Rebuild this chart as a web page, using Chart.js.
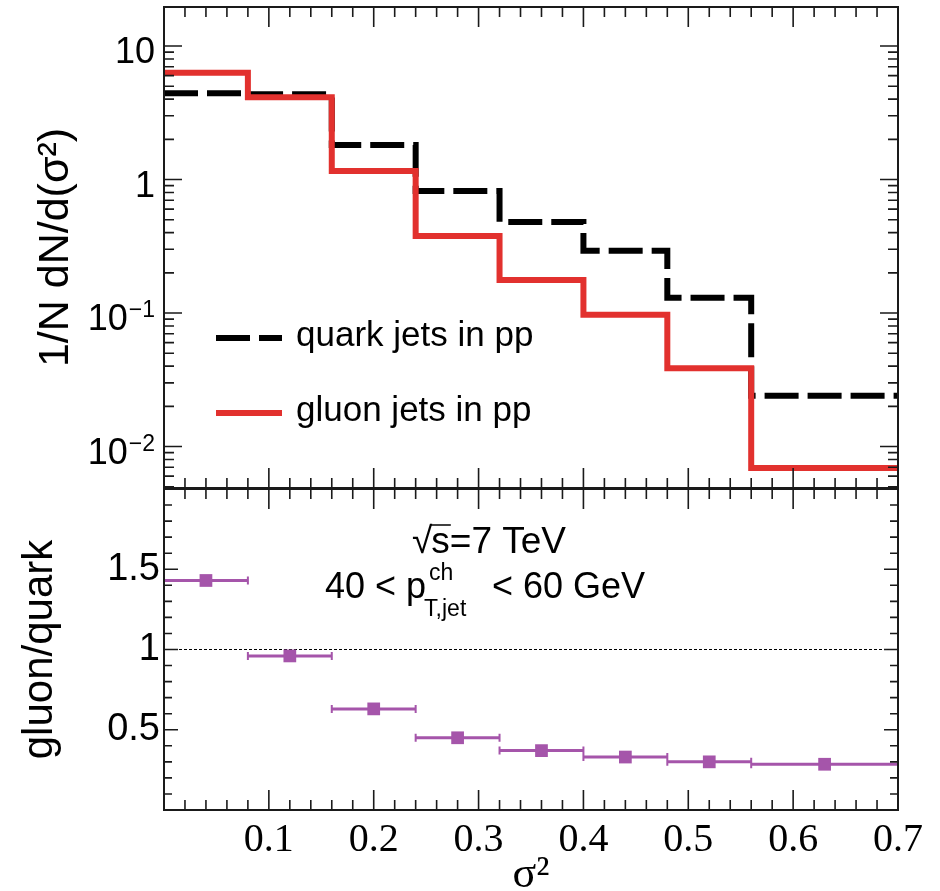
<!DOCTYPE html>
<html><head><meta charset="utf-8">
<script src="https://cdn.jsdelivr.net/npm/chart.js@4.4.1/dist/chart.umd.min.js"></script>
<style>
html,body{margin:0;padding:0;background:#fff;overflow:hidden;width:940px;height:891px;}
#wrap{position:relative;width:940px;height:891px;}
canvas{position:absolute;left:0;}
#cTop{top:0;} #cBot{top:480px;}
</style></head><body>
<div id="wrap"><canvas id="cTop" width="940" height="500"></canvas><canvas id="cBot" width="940" height="421"></canvas></div>
<script>
// ---------- data ----------
const binEdges = [0, 0.08, 0.16, 0.24, 0.32, 0.40, 0.48, 0.56, 0.70];
const quarkValues = [4.42, 4.35, 1.81, 0.82, 0.48, 0.293, 0.130, 0.024];
const gluonValues = [6.3, 4.13, 1.16, 0.377, 0.177, 0.097, 0.0385, 0.0069];
const ratioCenters = [0.04, 0.12, 0.20, 0.28, 0.36, 0.44, 0.52, 0.63];
const ratioValues = [1.43, 0.96, 0.63, 0.45, 0.37, 0.33, 0.30, 0.285];
const xTickValues = [0.1, 0.2, 0.3, 0.4, 0.5, 0.6, 0.7];
const xTickLabels = ['0.1', '0.2', '0.3', '0.4', '0.5', '0.6', '0.7'];
const ratioTickValues = [0.5, 1, 1.5];
const ratioTickLabels = ['0.5', '1', '1.5'];
const logTickValues = [0.01, 0.1, 1, 10];
const logTickBases = ['10', '10', '1', '10'];
const logTickExps = ['\u22122', '\u22121', '', ''];
const seriesLabels = ['quark jets in pp', 'gluon jets in pp'];

const SANS = "'Liberation Sans', Arial, Helvetica, sans-serif";
const SERIF = "'Liberation Serif', 'Times New Roman', serif";
const RED = '#e2312e';
const PURPLE = '#a555aa';
const FRAME = '#1a1a1a';
const BOT_TOP = 480; // page offset of lower canvas

function stepPoints(vals) {
  const pts = vals.map((v, i) => ({x: binEdges[i], y: v}));
  pts.push({x: binEdges[binEdges.length - 1], y: vals[vals.length - 1]});
  return pts;
}

function drawXTicks(ctx, x, a) {
  for (let k = 1; k < 35; k++) {
    const v = Math.round(k * 2) / 100;
    const px = x.getPixelForValue(v);
    const L = (k % 5 === 0) ? 20 : 10;
    ctx.moveTo(px, a.bottom); ctx.lineTo(px, a.bottom - L);
    ctx.moveTo(px, a.top); ctx.lineTo(px, a.top + L);
  }
}
function drawYTick(ctx, py, a, L) {
  ctx.moveTo(a.left, py); ctx.lineTo(a.left + L, py);
  ctx.moveTo(a.right, py); ctx.lineTo(a.right - L, py);
}
function noPad(s) { s.paddingTop = 0; s.paddingBottom = 0; s.paddingLeft = 0; s.paddingRight = 0; }

// ---------- top panel plugin ----------
const topPlugin = {
  id: 'topPanel',
  afterDraw(chart) {
    const {ctx, chartArea: a, scales: {x, y}} = chart;
    ctx.save();
    ctx.strokeStyle = FRAME; ctx.lineWidth = 1.6;
    ctx.beginPath();
    drawXTicks(ctx, x, a);
    for (let d = -3; d <= 1; d++) {
      for (let m = 1; m <= 9; m++) {
        const v = m * Math.pow(10, d);
        if (v < y.min || v > y.max) continue;
        drawYTick(ctx, y.getPixelForValue(v), a, m === 1 ? 18 : 10);
      }
    }
    ctx.stroke();
    ctx.lineWidth = 2;
    ctx.strokeRect(a.left, a.top, a.right - a.left, a.bottom - a.top);
    // y tick labels with exponents
    ctx.fillStyle = '#000';
    ctx.textAlign = 'right'; ctx.textBaseline = 'alphabetic';
    const xr = 155;
    logTickValues.forEach((v, i) => {
      const py = y.getPixelForValue(v);
      let w = 0;
      if (logTickExps[i]) {
        ctx.font = '23px ' + SANS;
        ctx.fillText(logTickExps[i], xr, py + 4);
        w = ctx.measureText(logTickExps[i]).width + 1;
      }
      ctx.font = '36px ' + SANS;
      ctx.fillText(logTickBases[i], xr - w, py + 17);
    });
    // legend
    const ly = [338, 413];
    chart.data.datasets.forEach((ds, i) => {
      ctx.save();
      ctx.strokeStyle = ds.borderColor; ctx.lineWidth = ds.borderWidth;
      ctx.setLineDash(ds.borderDash || []);
      ctx.beginPath(); ctx.moveTo(216, ly[i]); ctx.lineTo(282, ly[i]); ctx.stroke();
      ctx.restore();
      ctx.fillStyle = '#000'; ctx.textAlign = 'left'; ctx.textBaseline = 'middle';
      ctx.font = '35px ' + SANS;
      ctx.fillText(ds.label, 296, ly[i] - 2);
    });
    ctx.restore();
  }
};

// ---------- bottom panel plugin ----------
const botPlugin = {
  id: 'botPanel',
  beforeDatasetsDraw(chart) {
    const {ctx, chartArea: a, scales: {x, y}} = chart;
    ctx.save();
    ctx.strokeStyle = '#000'; ctx.lineWidth = 1.2; ctx.setLineDash([3, 2]);
    const p1 = y.getPixelForValue(1);
    ctx.beginPath(); ctx.moveTo(a.left, p1); ctx.lineTo(a.right, p1); ctx.stroke();
    ctx.setLineDash([]);
    ctx.strokeStyle = PURPLE; ctx.lineWidth = 3;
    ctx.beginPath();
    ratioValues.forEach((v, i) => {
      const py = y.getPixelForValue(v);
      ctx.moveTo(x.getPixelForValue(binEdges[i]), py);
      ctx.lineTo(x.getPixelForValue(binEdges[i + 1]), py);
    });
    ctx.stroke();
    ctx.lineWidth = 2;
    ctx.beginPath();
    ratioValues.forEach((v, i) => {
      const py = y.getPixelForValue(v);
      [binEdges[i], binEdges[i + 1]].forEach(e => {
        const px = x.getPixelForValue(e);
        ctx.moveTo(px, py - 4); ctx.lineTo(px, py + 4);
      });
    });
    ctx.stroke();
    ctx.restore();
  },
  afterDraw(chart) {
    const {ctx, chartArea: a, scales: {x, y}} = chart;
    ctx.save();
    ctx.strokeStyle = FRAME; ctx.lineWidth = 1.6;
    ctx.beginPath();
    drawXTicks(ctx, x, a);
    for (let k = 1; k < 20; k++) {
      drawYTick(ctx, y.getPixelForValue(k / 10), a, k % 5 === 0 ? 14 : 8);
    }
    ctx.stroke();
    ctx.lineWidth = 2;
    ctx.strokeRect(a.left, a.top, a.right - a.left, a.bottom - a.top);
    // annotation text (page coordinates shifted into this canvas)
    const o = BOT_TOP;
    ctx.fillStyle = '#000'; ctx.textAlign = 'left'; ctx.textBaseline = 'alphabetic';
    ctx.font = '37px ' + SANS;
    const rootW = ctx.measureText('\u221A').width;
    ctx.fillText('\u221A', 412, 553 - o);
    ctx.fillText('s=7 TeV', 412 + rootW - 1, 553 - o);
    const sW = ctx.measureText('s').width;
    ctx.lineWidth = 1.5; ctx.strokeStyle = '#000';
    ctx.beginPath(); ctx.moveTo(412 + rootW - 2, 525 - o); ctx.lineTo(412 + rootW + sW, 525 - o); ctx.stroke();
    ctx.font = '36px ' + SANS;
    const t1 = '40 < p';
    ctx.fillText(t1, 325, 598 - o);
    const pEnd = 325 + ctx.measureText(t1).width;
    ctx.font = '23px ' + SANS;
    ctx.fillText('ch', pEnd + 3, 580 - o);
    ctx.fillText('T,jet', pEnd - 2, 616 - o);
    ctx.font = '36px ' + SANS;
    ctx.fillText('< 60 GeV', 492, 598 - o);
    ctx.restore();
  }
};

// ---------- top chart ----------
new Chart(document.getElementById('cTop'), {
  type: 'line',
  data: {
    datasets: [
      {label: seriesLabels[0], data: stepPoints(quarkValues), stepped: true, borderColor: '#000',
       borderWidth: 6, borderDash: [34, 9], pointRadius: 0, fill: false, order: 1},
      {label: seriesLabels[1], data: stepPoints(gluonValues), stepped: true, borderColor: RED,
       borderWidth: 6, pointRadius: 0, fill: false, order: 0}
    ]
  },
  options: {
    responsive: false, animation: false, events: [],
    layout: {padding: {left: 0, right: 42, top: 7, bottom: 12}},
    plugins: {legend: {display: false}, tooltip: {enabled: false}},
    scales: {
      x: {type: 'linear', min: 0, max: 0.7, display: false},
      y: {type: 'logarithmic', min: 0.00489, max: 19.6,
          afterFit(s) { s.width = 164; noPad(s); },
          grid: {display: false, drawTicks: false}, border: {display: false},
          ticks: {display: false},
          title: {display: true, text: '1/N dN/d(\u03C3\u00B2)', color: '#000',
                  font: {family: SANS, size: 43, lineHeight: 1}, padding: {top: 35, bottom: 0}}}
    }
  },
  plugins: [topPlugin]
});

// ---------- bottom chart ----------
new Chart(document.getElementById('cBot'), {
  type: 'scatter',
  data: {
    datasets: [
      {label: 'gluon/quark', data: ratioCenters.map((c, i) => ({x: c, y: ratioValues[i]})),
       pointStyle: 'rect', pointRadius: 9, backgroundColor: PURPLE, borderWidth: 0, showLine: false}
    ]
  },
  options: {
    responsive: false, animation: false, events: [],
    layout: {padding: {left: 0, right: 42, top: 8, bottom: 0}},
    plugins: {legend: {display: false}, tooltip: {enabled: false}},
    scales: {
      x: {type: 'linear', min: 0, max: 0.7,
          afterFit(s) { s.height = 91; noPad(s); },
          afterBuildTicks(s) { s.ticks = xTickValues.map(v => ({value: v})); },
          grid: {display: false, drawTicks: false}, border: {display: false},
          ticks: {callback: (v, i) => xTickLabels[i], color: '#000', autoSkip: false, maxRotation: 0,
                  font: {family: SERIF, size: 40}, padding: 6},
          title: {display: true, text: '\u03C3\u00B2', color: '#000',
                  font: {family: SERIF, size: 44, lineHeight: 1}, padding: {top: 0, bottom: 4}}},
      y: {type: 'linear', min: 0, max: 2.0,
          afterFit(s) { s.width = 164; noPad(s); },
          afterBuildTicks(s) { s.ticks = ratioTickValues.map(v => ({value: v})); },
          grid: {display: false, drawTicks: false}, border: {display: false},
          ticks: {callback: (v, i) => ratioTickLabels[i], color: '#000',
                  font: {family: SANS, size: 38}, padding: 4},
          title: {display: true, text: 'gluon/quark', color: '#000',
                  font: {family: SANS, size: 42, lineHeight: 1}, padding: {top: 19, bottom: 0}}}
    }
  },
  plugins: [botPlugin]
});
</script>
</body></html>
